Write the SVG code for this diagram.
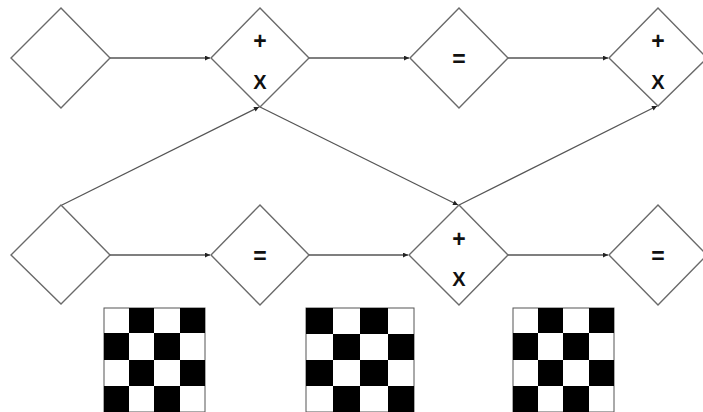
<svg xmlns="http://www.w3.org/2000/svg" width="703" height="412" viewBox="0 0 703 412">
<defs>
<style>
.d{fill:#fff;stroke:#6a6a6a;stroke-width:1.4}
.c{stroke:#555;stroke-width:1.3;fill:none;marker-end:url(#ah)}
.t{font-family:"Liberation Sans",Arial,sans-serif;font-weight:bold;font-size:20px;text-anchor:middle;fill:#111}
.p{font-size:23px}
.b{fill:#000}
.g{fill:#fff;stroke:#555;stroke-width:1}
</style>
<marker id="ah" viewBox="0 0 10 10" refX="10" refY="5" markerWidth="7" markerHeight="5" markerUnits="userSpaceOnUse" orient="auto">
<path d="M0,0 L10,5 L0,10 z" fill="#222"/>
</marker>
</defs>
<g id="connectors">
<line class="c" x1="110" y1="58" x2="210" y2="58"/>
<line class="c" x1="309" y1="58" x2="409" y2="58"/>
<line class="c" x1="508" y1="58" x2="608" y2="58"/>
<line class="c" x1="110" y1="255" x2="210" y2="255"/>
<line class="c" x1="309" y1="255" x2="408" y2="255"/>
<line class="c" x1="508" y1="255" x2="608" y2="255"/>
<line class="c" x1="62" y1="205" x2="259" y2="107"/>
<line class="c" x1="260" y1="107" x2="458" y2="205"/>
<line class="c" x1="459" y1="205" x2="657" y2="106"/>
</g>
<g id="n1"><polygon class="d" points="61,8 110,58 61,108 11,58"/></g>
<g id="n2"><polygon class="d" points="260,8 309,58 260,107 211,58"/>
<text class="t p" x="260" y="49">+</text><text class="t" x="260" y="89">X</text></g>
<g id="n3"><polygon class="d" points="459,8 508,58 459,108 410,58"/>
<text class="t p" x="459" y="67">=</text></g>
<g id="n4"><polygon class="d" points="658,8 707,58 658,106 609,58"/>
<text class="t p" x="658" y="49">+</text><text class="t" x="658" y="89">X</text></g>
<g id="n5"><polygon class="d" points="61,205 110,255 61,304 11,255"/></g>
<g id="n6"><polygon class="d" points="260,205 309,255 260,305 211,255"/>
<text class="t p" x="260" y="264">=</text></g>
<g id="n7"><polygon class="d" points="459,205 508,255 459,305 409,255"/>
<text class="t p" x="459" y="247">+</text><text class="t" x="459" y="286">X</text></g>
<g id="n8"><polygon class="d" points="658,205 707,255 658,305 609,255"/>
<text class="t p" x="658" y="264">=</text></g>
<g id="board1">
<rect class="g" x="104" y="308" width="101" height="104"/>
<rect class="b" x="129" y="308" width="25" height="25"/><rect class="b" x="180" y="308" width="25" height="25"/>
<rect class="b" x="104" y="333" width="25" height="27"/><rect class="b" x="154" y="333" width="26" height="27"/>
<rect class="b" x="129" y="360" width="25" height="26"/><rect class="b" x="180" y="360" width="25" height="26"/>
<rect class="b" x="104" y="386" width="25" height="26"/><rect class="b" x="154" y="386" width="26" height="26"/>
</g>
<g id="board2">
<rect class="g" x="306" y="308" width="108" height="104"/>
<rect class="b" x="306" y="308" width="27" height="26"/><rect class="b" x="360" y="308" width="28" height="26"/>
<rect class="b" x="333" y="334" width="27" height="26"/><rect class="b" x="388" y="334" width="26" height="26"/>
<rect class="b" x="306" y="360" width="27" height="26"/><rect class="b" x="360" y="360" width="28" height="26"/>
<rect class="b" x="333" y="386" width="27" height="26"/><rect class="b" x="388" y="386" width="26" height="26"/>
</g>
<g id="board3">
<rect class="g" x="513" y="308" width="101" height="104"/>
<rect class="b" x="538" y="308" width="25" height="25"/><rect class="b" x="589" y="308" width="25" height="25"/>
<rect class="b" x="513" y="333" width="25" height="27"/><rect class="b" x="563" y="333" width="26" height="27"/>
<rect class="b" x="538" y="360" width="25" height="26"/><rect class="b" x="589" y="360" width="25" height="26"/>
<rect class="b" x="513" y="386" width="25" height="26"/><rect class="b" x="563" y="386" width="26" height="26"/>
</g>
</svg>
